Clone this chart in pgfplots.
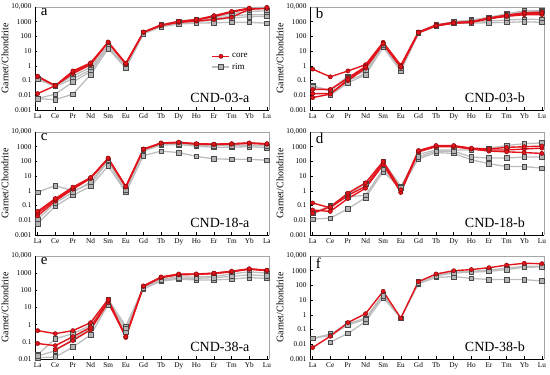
\documentclass[border=0pt]{standalone}
\usepackage{pgfplots}
\pgfplotsset{compat=1.18}
\usepackage{fontspec}
\setmainfont{Liberation Serif}
\definecolor{corered}{HTML}{E3141C}
\definecolor{coreedge}{HTML}{8A0A0A}
\definecolor{rimline}{HTML}{BDBDBD}
\definecolor{rimfill}{HTML}{B4B4B4}
\definecolor{rimedge}{HTML}{4A4A4A}
\tikzset{
  coreplot/.style={color=corered, line width=1.4pt, mark=*, mark size=2.1pt,
    mark options={fill=corered, draw=coreedge, line width=0.5pt, solid}},
  rimplot/.style={color=rimline, line width=1.3pt, mark=square*, mark size=2.3pt,
    mark options={fill=rimfill, draw=rimedge, line width=0.55pt, solid}},
  paneltag/.style={font=\fontsize{15}{15}\selectfont, anchor=north west},
  sampletag/.style={font=\fontsize{14}{14}\selectfont, anchor=center},
}
\pgfplotsset{
  every axis/.append style={
    scale only axis, width=234pt, height=103pt,
    ymode=log, ymin=0.001, ymax=10000,
    xmin=-0.15, xmax=13.12,
    xtick={0,...,13},
    xticklabels={La,Ce,Pr,Nd,Sm,Eu,Gd,Tb,Dy,Ho,Er,Tm,Yb,Lu},
    ytick={0.001,0.01,0.1,1,10,100,1000,10000},
    yticklabels={0.001,0.01,0.1,1,10,100,1000,{10,000}},
    tick label style={font=\fontsize{7.3}{8}\selectfont},
    ylabel={Garnet/Chondrite},
    ylabel style={font=\fontsize{10}{11}\selectfont, yshift=-4pt},
    tick align=inside, major tick length=2.5pt, minor tick length=1.3pt,
    tick style={black, line width=0.5pt},
    xtick pos=bottom, ytick pos=left,
    axis line style={draw=none},
    clip=false,
  },
}
\newcommand\frameaxis{%
  \draw[gray!70, line width=0.6pt] (rel axis cs:0,1) -- (rel axis cs:1,1) -- (rel axis cs:1,0);
  \draw[black, line width=0.9pt] (rel axis cs:0,1) -- (rel axis cs:0,0) -- (rel axis cs:1,0);}
\begin{document}
\begin{tikzpicture}
\useasboundingbox (0,0) rectangle (550pt,375pt);
% ---------------- a ----------------
\begin{axis}[anchor=south west, at={(35pt,265pt)},
  legend style={draw=none, fill=none, at={(0.75,0.58)}, anchor=north west,
    font=\fontsize{9}{10}\selectfont, inner sep=1pt},
  legend cell align=left]
\addlegendimage{coreplot}\addlegendentry{core}
\addlegendimage{rimplot}\addlegendentry{rim}
\addplot[rimplot, forget plot] coordinates {(0,0.13)(1,0.045)(2,0.2)(3,0.8)(4,25)(5,1.0)(6,180)(7,600)(8,1100)(9,1500)(10,2000)(11,3500)(12,5000)(13,5500)};
\addplot[rimplot, forget plot] coordinates {(0,0.12)(1,0.04)(2,0.13)(3,0.55)(4,20)(5,0.9)(6,170)(7,550)(8,950)(9,1200)(10,1600)(11,2500)(12,3000)(13,3000)};
\addplot[rimplot, forget plot] coordinates {(0,0.006)(1,0.012)(2,0.08)(3,0.4)(4,20)(5,0.8)(6,170)(7,500)(8,900)(9,1000)(10,1300)(11,1800)(12,2200)(13,2300)};
\addplot[rimplot, forget plot] coordinates {(0,0.006)(1,0.005)(2,0.012)(3,0.25)(4,15)(5,0.7)(6,150)(7,450)(8,700)(9,800)(10,850)(11,900)(12,900)(13,800)};
\addplot[coreplot, forget plot] coordinates {(0,0.013)(1,0.045)(2,0.3)(3,1.2)(4,40)(5,1.3)(6,190)(7,550)(8,900)(9,1100)(10,1400)(11,2000)(12,7000)(13,8000)};
\addplot[coreplot, forget plot] coordinates {(0,0.18)(1,0.045)(2,0.38)(3,1.4)(4,38)(5,1.4)(6,190)(7,580)(8,1000)(9,1300)(10,2200)(11,4500)(12,7500)(13,8500)};
\addplot[coreplot, forget plot] coordinates {(0,0.2)(1,0.045)(2,0.45)(3,1.6)(4,42)(5,1.5)(6,200)(7,600)(8,1050)(9,1400)(10,2600)(11,5000)(12,8500)(13,9500)};
\frameaxis
\node[paneltag] at (rel axis cs:0.01,1.02) {a};
\node[sampletag] at (rel axis cs:0.79,0.12) {CND-03-a};
\end{axis}
% ---------------- b ----------------
\begin{axis}[anchor=south west, at={(310pt,265pt)}]
\addplot[rimplot] coordinates {(0,0.045)(1,0.02)(2,0.2)(3,0.4)(4,20)(5,0.6)(6,180)(7,600)(8,1000)(9,1300)(10,2000)(11,3500)(12,5500)(13,6000)};
\addplot[rimplot] coordinates {(1,0.012)(2,0.1)(3,0.3)(4,20)(5,0.5)(6,170)(7,550)(8,900)(9,1000)(10,1100)(11,1300)(12,1500)(13,1400)};
\addplot[rimplot] coordinates {(1,0.01)(2,0.07)(3,0.25)(4,18)(5,0.45)(6,160)(7,500)(8,800)(9,800)(10,850)(11,900)(12,1000)(13,900)};
\addplot[rimplot] coordinates {(0,0.04)(1,0.02)(2,0.15)(3,0.5)(4,25)(5,0.7)(6,180)(7,580)(8,950)(9,1200)(10,1800)(11,3000)(12,4500)(13,5000)};
\addplot[coreplot] coordinates {(0,0.6)(1,0.18)(2,0.45)(3,1.2)(4,40)(5,1.1)(6,200)(7,600)(8,900)(9,1000)(10,1800)(11,2800)(12,4000)(13,4500)};
\addplot[coreplot] coordinates {(0,0.025)(1,0.025)(2,0.15)(3,0.9)(4,35)(5,0.9)(6,190)(7,550)(8,850)(9,950)(10,1700)(11,2500)(12,3500)(13,3500)};
\addplot[coreplot] coordinates {(0,0.013)(1,0.013)(2,0.1)(3,0.7)(4,30)(5,0.8)(6,180)(7,520)(8,800)(9,900)(10,1600)(11,2300)(12,3000)(13,3000)};
\addplot[coreplot] coordinates {(0,0.007)(1,0.012)(2,0.12)(3,0.8)(4,32)(5,0.85)(6,185)(7,540)(8,820)(9,920)(10,1650)(11,2600)(12,3800)(13,4000)};
\frameaxis
\node[paneltag] at (rel axis cs:0.01,1.02) {b};
\node[sampletag] at (rel axis cs:0.79,0.12) {CND-03-b};
\end{axis}
% ---------------- c ----------------
\begin{axis}[anchor=south west, at={(35pt,140pt)},
  xticklabels={La,Ce,Pr,Nd,Sm,Eu,Gd,Tb,Dy,Ho,Er,Tm,Yb,La}]
\addplot[rimplot] coordinates {(0,0.8)(1,2.3)(2,1.0)(3,3)(4,100)(5,0.8)(6,250)(7,500)(8,400)(9,220)(10,150)(11,140)(12,140)(13,120)};
\addplot[rimplot] coordinates {(0,0.006)(1,0.09)(2,0.5)(3,2)(4,50)(5,0.8)(6,500)(7,1300)(8,1400)(9,1100)(10,900)(11,950)(12,1000)(13,850)};
\addplot[rimplot] coordinates {(0,0.012)(1,0.15)(2,0.8)(3,4)(4,120)(5,1.2)(6,600)(7,1500)(8,1600)(9,1300)(10,1200)(11,1200)(12,1300)(13,1100)};
\addplot[coreplot] coordinates {(0,0.02)(1,0.2)(2,1.3)(3,7)(4,150)(5,1.8)(6,650)(7,1700)(8,1900)(9,1500)(10,1400)(11,1500)(12,1700)(13,1500)};
\addplot[coreplot] coordinates {(0,0.03)(1,0.25)(2,1.5)(3,7.5)(4,160)(5,1.9)(6,680)(7,1750)(8,1950)(9,1550)(10,1450)(11,1550)(12,1750)(13,1550)};
\addplot[coreplot] coordinates {(0,0.04)(1,0.3)(2,1.8)(3,8)(4,170)(5,2)(6,700)(7,1800)(8,2000)(9,1600)(10,1500)(11,1600)(12,1800)(13,1600)};
\frameaxis
\node[paneltag] at (rel axis cs:0.01,1.02) {c};
\node[sampletag] at (rel axis cs:0.79,0.12) {CND-18-a};
\end{axis}
% ---------------- d ----------------
\begin{axis}[anchor=south west, at={(310pt,140pt)}]
\addplot[rimplot] coordinates {(0,0.012)(1,0.014)(2,0.06)(3,0.35)(4,20)(5,1.5)(6,150)(7,400)(8,350)(9,130)(10,70)(11,45)(12,45)(13,35)};
\addplot[rimplot] coordinates {(0,0.03)(1,0.1)(2,0.6)(3,3)(4,100)(5,2)(6,300)(7,600)(8,600)(9,600)(10,800)(11,1200)(12,1600)(13,1800)};
\addplot[rimplot] coordinates {(1,0.09)(2,0.4)(3,0.5)(4,30)(5,1.8)(6,200)(7,500)(8,500)(9,200)(10,170)(11,170)(12,200)(13,200)};
\addplot[coreplot] coordinates {(0,0.15)(1,0.07)(2,0.5)(3,2)(4,80)(5,0.8)(6,500)(7,1100)(8,1100)(9,700)(10,600)(11,600)(12,700)(13,800)};
\addplot[coreplot] coordinates {(0,0.05)(1,0.04)(2,0.3)(3,1.5)(4,60)(5,0.8)(6,450)(7,1000)(8,1000)(9,700)(10,500)(11,450)(12,400)(13,350)};
\addplot[coreplot] coordinates {(0,0.03)(1,0.08)(2,0.7)(3,3.5)(4,100)(5,1.2)(6,550)(7,1200)(8,1200)(9,800)(10,700)(11,900)(12,1000)(13,1100)};
\frameaxis
\node[paneltag] at (rel axis cs:0.01,1.02) {d};
\node[sampletag] at (rel axis cs:0.79,0.12) {CND-18-b};
\end{axis}
% ---------------- e ----------------
\begin{axis}[anchor=south west, at={(35pt,16pt)}, ymin=0.01,
  ytick={0.01,0.1,1,10,100,1000,10000},
  yticklabels={0.01,0.1,1,10,100,1000,{10,000}}]
\addplot[rimplot] coordinates {(0,0.018)(1,0.15)(2,0.3)(3,0.9)(4,30)(5,0.8)(6,150)(7,450)(8,600)(9,600)(10,650)(11,900)(12,1200)(13,1000)};
\addplot[rimplot] coordinates {(0,0.012)(1,0.013)(2,0.05)(3,0.25)(4,15)(5,0.4)(6,120)(7,350)(8,450)(9,400)(10,400)(11,450)(12,550)(13,500)};
\addplot[rimplot] coordinates {(0,0.015)(1,0.03)(2,0.15)(3,0.6)(4,20)(5,0.6)(6,140)(7,400)(8,500)(9,500)(10,550)(11,650)(12,800)(13,700)};
\addplot[coreplot] coordinates {(1,0.035)(2,0.12)(3,0.5)(4,20)(5,0.2)(6,170)(7,550)(8,800)(9,850)(10,950)(11,1200)(12,1700)(13,1400)};
\addplot[coreplot] coordinates {(0,0.08)(1,0.06)(2,0.2)(3,0.7)(4,25)(5,0.18)(6,175)(7,580)(8,850)(9,870)(10,980)(11,1250)(12,1750)(13,1450)};
\addplot[coreplot] coordinates {(0,0.45)(1,0.3)(2,0.45)(3,1.3)(4,30)(5,0.2)(6,180)(7,600)(8,900)(9,900)(10,1000)(11,1300)(12,1800)(13,1500)};
\frameaxis
\node[paneltag] at (rel axis cs:0.01,1.02) {e};
\node[sampletag] at (rel axis cs:0.79,0.12) {CND-38-a};
\end{axis}
% ---------------- f ----------------
\begin{axis}[anchor=south west, at={(310pt,16pt)}]
\addplot[rimplot] coordinates {(0,0.025)(1,0.05)(2,0.25)(3,0.6)(4,25)(5,0.6)(6,170)(7,500)(8,800)(9,900)(10,1100)(11,1500)(12,2000)(13,2000)};
\addplot[rimplot] coordinates {(1,0.014)(2,0.055)(3,0.35)(4,15)(5,0.6)(6,130)(7,350)(8,400)(9,300)(10,250)(11,250)(12,250)(13,200)};
\addplot[rimplot] coordinates {(0,0.025)(1,0.04)(2,0.2)(3,0.5)(4,20)(5,0.6)(6,150)(7,450)(8,700)(9,800)(10,900)(11,1200)(12,1700)(13,1800)};
\addplot[coreplot] coordinates {(0,0.006)(1,0.035)(2,0.3)(3,1.2)(4,40)(5,0.6)(6,180)(7,600)(8,1000)(9,1200)(10,1600)(11,2400)(12,3200)(13,3000)};
\frameaxis
\node[paneltag] at (rel axis cs:0.01,1.02) {f};
\node[sampletag] at (rel axis cs:0.79,0.12) {CND-38-b};
\end{axis}
\end{tikzpicture}
\end{document}
